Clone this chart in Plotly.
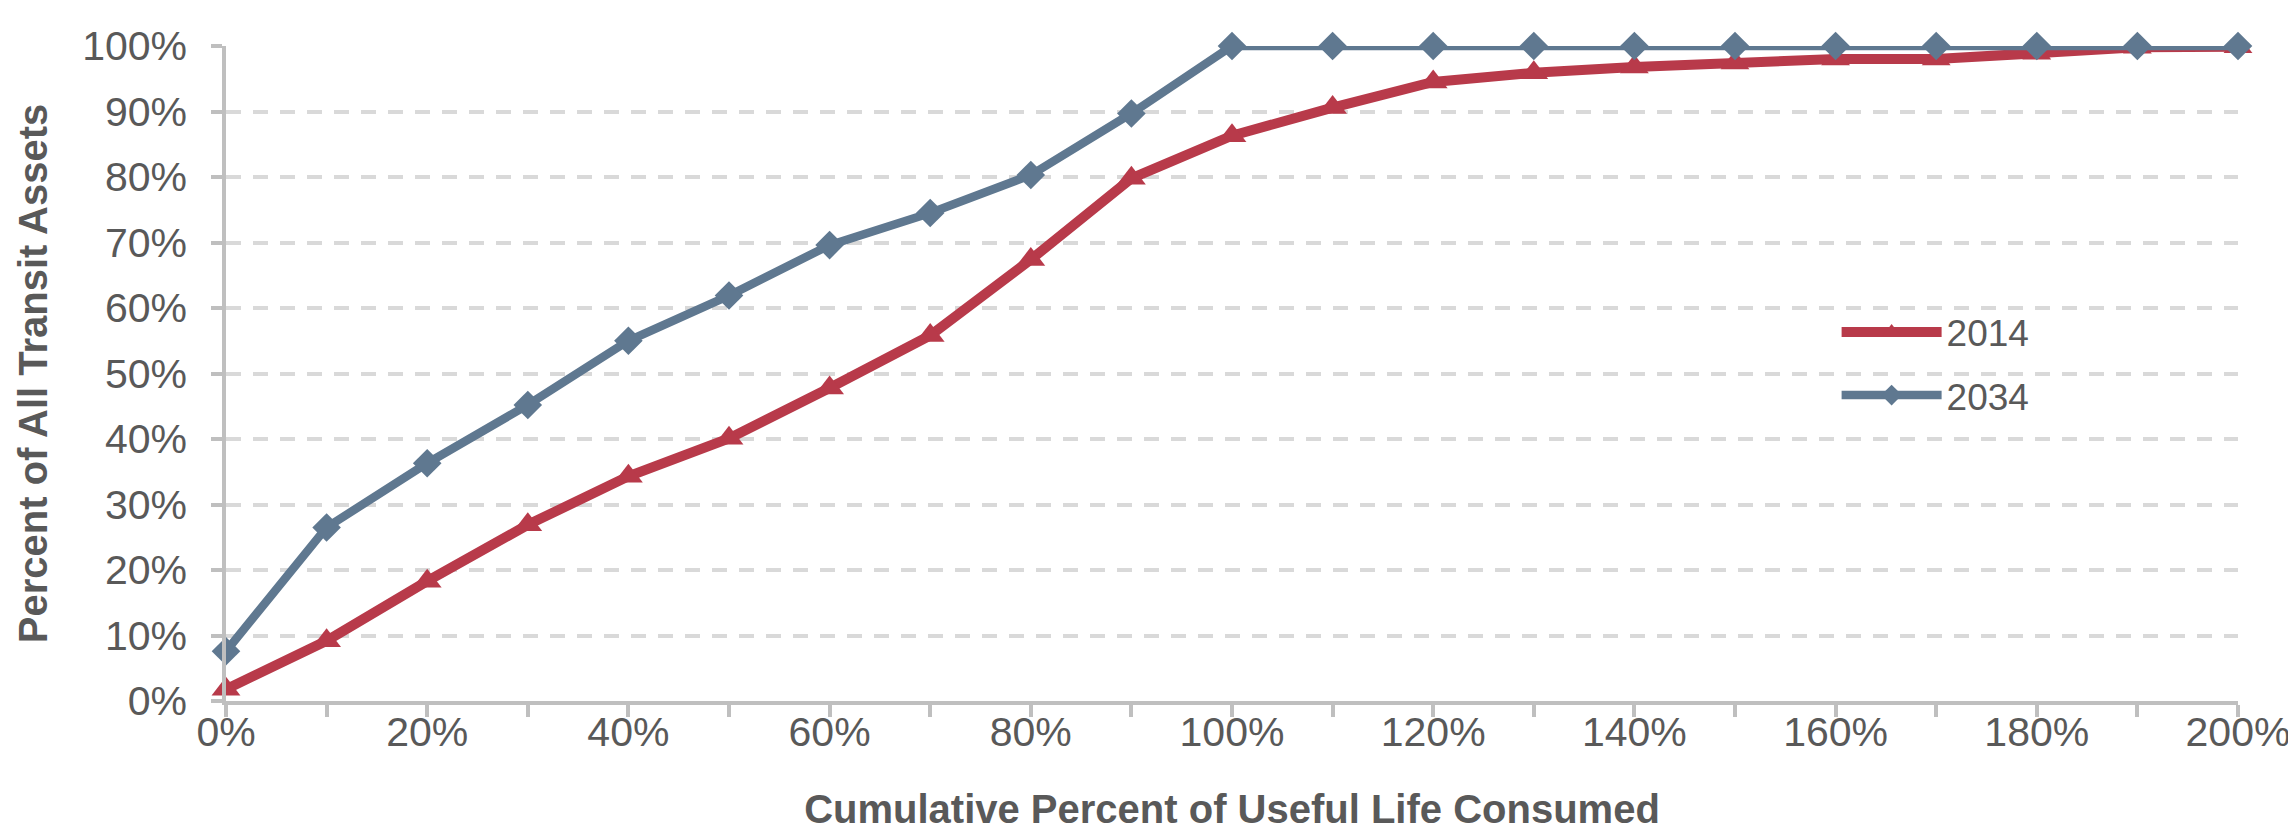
import plotly.graph_objects as go

# Data
life_consumed = [0, 10, 20, 30, 40, 50, 60, 70, 80, 90, 100,
                 110, 120, 130, 140, 150, 160, 170, 180, 190, 200]
assets_2014 = [1.8, 9.2, 18.3, 26.9, 34.3, 40.1, 47.8, 55.8, 67.4, 79.8, 86.3,
               90.6, 94.5, 95.9, 96.8, 97.4, 98.0, 98.0, 98.9, 99.8, 99.9]
assets_2034 = [7.6, 26.5, 36.3, 45.2, 55.0, 61.9, 69.6, 74.5, 80.3, 89.7, 100,
               100, 100, 100, 100, 100, 100, 100, 100, 100, 100]
series_names = ["2014", "2034"]

red = "#B83A4A"
slate = "#5F7890"
grey_text = "#595959"
axis_grey = "#BFBFBF"
font_family = "Liberation Sans, Arial, sans-serif"

fig = go.Figure()

fig.add_trace(go.Scatter(
    x=life_consumed, y=assets_2014, name=series_names[0],
    legendgroup="a",
    mode="lines+markers",
    line=dict(color=red, width=10),
    marker=dict(symbol="triangle-up", size=25, color=red),
    cliponaxis=False,
))
fig.add_trace(go.Scatter(
    x=life_consumed, y=assets_2034, name=series_names[1],
    legendgroup="b",
    mode="lines+markers",
    line=dict(color=slate, width=8.5),
    marker=dict(symbol="diamond", size=22, color=slate),
    cliponaxis=False,
))

fig.update_layout(
    width=2296, height=838,
    paper_bgcolor="white", plot_bgcolor="white",
    font=dict(family=font_family, size=41, color=grey_text),
    margin=dict(l=218, r=66, t=38, b=145),
    showlegend=True,
    legend=dict(
        x=0.8005, y=0.610, xanchor="left", yanchor="top",
        bgcolor="rgba(0,0,0,0)",
        font=dict(size=37, color=grey_text),
        itemwidth=100,
        traceorder="grouped",
        tracegroupgap=12,
    ),
    xaxis=dict(
        range=[0, 200], dtick=20, tick0=0, ticksuffix="%",
        automargin=False,
        showgrid=False, zeroline=False,
        showline=True, linecolor=axis_grey, linewidth=3.5,
        ticks="outside", ticklen=12, tickwidth=3.5, tickcolor=axis_grey,
        minor=dict(dtick=10, ticks="outside", ticklen=12, tickwidth=3.5,
                   tickcolor=axis_grey, showgrid=False),
        ticklabelstandoff=-20,
        title=dict(text="<b>Cumulative Percent of Useful Life Consumed</b>",
                   font=dict(size=40, color=grey_text), standoff=42),
    ),
    yaxis=dict(
        range=[0, 100], dtick=10, tick0=0, ticksuffix="%",
        automargin=False,
        showgrid=True, gridcolor="#D9D9D9", gridwidth=3.5, griddash="15px,12px",
        zeroline=False,
        showline=True, linecolor=axis_grey, linewidth=3.5,
        ticks="outside", ticklen=11, tickwidth=3.5, tickcolor=axis_grey,
        ticklabelstandoff=16,
        title=dict(text="<b>Percent of All Transit Assets</b>",
                   font=dict(size=40, color=grey_text), standoff=23),
    ),
)

fig.write_html("out.html")
